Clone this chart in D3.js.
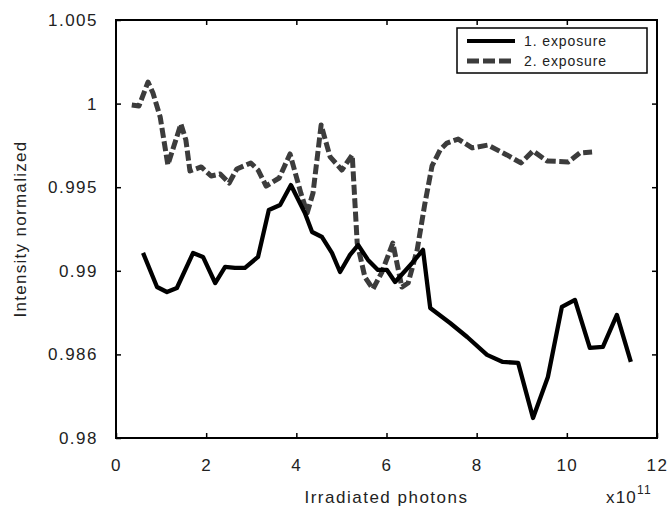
<!DOCTYPE html>
<html>
<head>
<meta charset="utf-8">
<script src="https://cdn.jsdelivr.net/npm/d3@7/dist/d3.min.js"></script>
<style>
  body { margin: 0; background: #fff; }
  text { font-family: "Liberation Sans", Arial, sans-serif; fill: #222; }
</style>
</head>
<body>
<div id="chart"></div>
<script>
// photons in units of 1e11, intensity normalized
const exp1X = [0.60, 0.91, 1.13, 1.35, 1.71, 1.93, 2.20, 2.42, 2.64, 2.86, 3.15, 3.39, 3.64, 3.88,
  4.19, 4.35, 4.57, 4.79, 4.97, 5.19, 5.37, 5.59, 5.81, 6.01, 6.19, 6.37, 6.57, 6.81, 6.97,
  7.41, 7.79, 8.23, 8.58, 8.92, 9.25, 9.58, 9.89, 10.18, 10.51, 10.80, 11.11, 11.42];
const exp1Y = [0.99107, 0.98903, 0.98873, 0.98897, 0.99107, 0.99083, 0.98927, 0.99023, 0.99017,
  0.99017, 0.99083, 0.99364, 0.99394, 0.99513, 0.99346, 0.99232, 0.99202, 0.99107, 0.98993,
  0.99095, 0.99154, 0.99065, 0.99005, 0.99005, 0.98933, 0.98987, 0.99047, 0.99125, 0.98778,
  0.98688, 0.98604, 0.98497, 0.98455, 0.98449, 0.98120, 0.98365, 0.98784, 0.98826, 0.98539,
  0.98545, 0.98736, 0.98455];

const exp2X = [0.35, 0.51, 0.71, 0.82, 0.98, 1.15, 1.44, 1.55, 1.64, 1.89, 2.11, 2.31, 2.51,
  2.68, 2.99, 3.15, 3.33, 3.62, 3.86, 4.10, 4.24, 4.37, 4.55, 4.75, 5.01, 5.24, 5.35, 5.52,
  5.70, 5.90, 6.14, 6.34, 6.48, 6.68, 6.85, 7.01, 7.19, 7.34, 7.59, 7.90, 8.25, 8.67, 8.98,
  9.25, 9.56, 10.03, 10.29, 10.56];
const exp2Y = [0.99992, 0.99986, 1.00129, 1.00063, 0.99920, 0.99633, 0.99878, 0.99782, 0.99597,
  0.99621, 0.99567, 0.99579, 0.99525, 0.99609, 0.99645, 0.99603, 0.99507, 0.99555, 0.99699,
  0.99465, 0.99346, 0.99465, 0.99872, 0.99681, 0.99603, 0.99693, 0.99166, 0.98963, 0.98891,
  0.98993, 0.99166, 0.98903, 0.98927, 0.99125, 0.99400, 0.99627, 0.99723, 0.99764, 0.99788,
  0.99735, 0.99752, 0.99693, 0.99645, 0.99717, 0.99657, 0.99651, 0.99705, 0.99711];

const xTicks = [0, 2, 4, 6, 8, 10, 12];
const yTicks = [0.98, 0.985, 0.99, 0.995, 1, 1.005];
const yTickLabels = ["0.98", "0.986", "0.99", "0.995", "1", "1.005"];
const seriesNames = ["1. exposure", "2. exposure"];

const W = 670, H = 513;
const margin = { top: 20, right: 13, bottom: 75, left: 116 };
const iw = W - margin.left - margin.right;
const ih = H - margin.top - margin.bottom;

const svg = d3.select('#chart').append('svg')
  .attr('width', W)
  .attr('height', H);

const g = svg.append('g')
  .attr('transform', `translate(${margin.left},${margin.top})`);

const x = d3.scaleLinear().domain([0, 12]).range([0, iw]);
const y = d3.scaleLinear().domain([0.98, 1.005]).range([ih, 0]);

const fontSize = '17px';

/* inward ticks on all four sides */
function styleAxis(sel, showText){
  sel.select('.domain').remove();
  sel.selectAll('.tick line').attr('stroke', '#000').attr('stroke-width', 1.5);
  sel.selectAll('.tick text')
    .style('font-size', fontSize)
    .style('letter-spacing', '1.5px')
    .attr('fill', '#222')
    .style('display', showText ? null : 'none');
}

g.append('g')
  .attr('transform', `translate(0,${ih})`)
  .call(d3.axisBottom(x).tickValues(xTicks).tickFormat(d3.format('d'))
    .tickSizeInner(-5).tickSizeOuter(0).tickPadding(21))
  .call(s => styleAxis(s, true));

g.append('g')
  .call(d3.axisTop(x).tickValues(xTicks.slice(1, -1))
    .tickSizeInner(-5).tickSizeOuter(0))
  .call(s => styleAxis(s, false));

g.append('g')
  .call(d3.axisLeft(y).tickValues(yTicks).tickFormat((d, i) => yTickLabels[i])
    .tickSizeInner(-5).tickSizeOuter(0).tickPadding(18))
  .call(s => styleAxis(s, true));

g.append('g')
  .attr('transform', `translate(${iw},0)`)
  .call(d3.axisRight(y).tickValues(yTicks.slice(1, -1))
    .tickSizeInner(-5).tickSizeOuter(0))
  .call(s => styleAxis(s, false));

// frame
g.append('rect')
  .attr('width', iw)
  .attr('height', ih)
  .attr('fill', 'none')
  .attr('stroke', '#000')
  .attr('stroke-width', 2);

const line = d3.line()
  .x(d => x(d[0]))
  .y(d => y(d[1]))
  .curve(d3.curveLinear);

const exp1 = exp1X.map((v, i) => [v, exp1Y[i]]);
const exp2 = exp2X.map((v, i) => [v, exp2Y[i]]);

g.append('path')
  .datum(exp2)
  .attr('d', line)
  .attr('fill', 'none')
  .attr('stroke', '#3c3c3c')
  .attr('stroke-width', 5)
  .attr('stroke-dasharray', '10,3.5')
  .attr('stroke-linejoin', 'round');

g.append('path')
  .datum(exp1)
  .attr('d', line)
  .attr('fill', 'none')
  .attr('stroke', '#000')
  .attr('stroke-width', 4.3)
  .attr('stroke-linejoin', 'round');

// axis titles
svg.append('text')
  .attr('x', margin.left + iw / 2)
  .attr('y', 503)
  .attr('text-anchor', 'middle')
  .style('font-size', fontSize)
  .style('letter-spacing', '1.5px')
  .text('Irradiated photons');

const expo = svg.append('text')
  .attr('x', 606)
  .attr('y', 503)
  .style('font-size', fontSize)
  .style('letter-spacing', '1.2px')
  .text('x10');
expo.append('tspan')
  .attr('dy', -9)
  .style('font-size', '12px')
  .text('11');

svg.append('text')
  .attr('transform', `translate(26,${margin.top + ih / 2}) rotate(-90)`)
  .attr('text-anchor', 'middle')
  .style('font-size', fontSize)
  .style('letter-spacing', '1.3px')
  .text('Intensity normalized');

// legend
const legend = svg.append('g').attr('transform', 'translate(457,28)');
legend.append('rect')
  .attr('width', 190)
  .attr('height', 45)
  .attr('fill', '#fff')
  .attr('stroke', '#000')
  .attr('stroke-width', 1.5);

const legendStyles = [
  { stroke: '#000', width: 4, dash: null },
  { stroke: '#3c3c3c', width: 5, dash: '12,4' }
];

seriesNames.forEach((name, i) => {
  const ly = 13 + i * 20;
  legend.append('line')
    .attr('x1', 10).attr('x2', 58)
    .attr('y1', ly).attr('y2', ly)
    .attr('stroke', legendStyles[i].stroke)
    .attr('stroke-width', legendStyles[i].width)
    .attr('stroke-dasharray', legendStyles[i].dash);
  legend.append('text')
    .attr('x', 67)
    .attr('y', ly + 5)
    .style('font-size', '14px')
    .style('letter-spacing', '0.9px')
    .text(name);
});
</script>
</body>
</html>
